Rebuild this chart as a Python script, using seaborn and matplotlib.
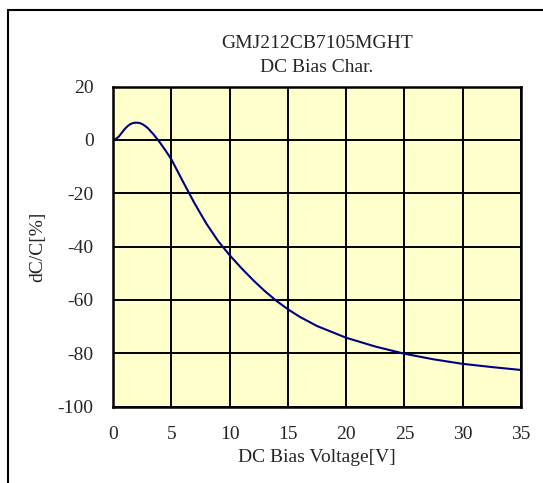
import pandas as pd
import matplotlib
matplotlib.use('Agg')
import matplotlib.pyplot as plt
import seaborn as sns

# DC bias curve
voltage = [0, 0.25, 0.5, 0.75, 1, 1.25, 1.5, 1.75, 2, 2.25, 2.5, 2.75, 3, 3.5, 4, 4.5, 5,
           6, 7, 8, 9, 10, 11, 12, 13, 14, 15, 16, 17.5, 20, 22.5, 25, 27.5, 30, 32.5, 35]
dcc = [0, 0.4, 1.3, 2.7, 4.1, 5.2, 6.0, 6.4, 6.5, 6.4, 6.0, 5.3, 4.4, 2.0, -0.8, -3.9, -7.2,
       -15.6, -23.8, -31.3, -37.8, -43.2, -48.0, -52.5, -56.6, -60.3, -63.5, -66.3, -69.8,
       -74.2, -77.5, -80.2, -82.3, -84.0, -85.2, -86.3]
x_ticks = [0, 5, 10, 15, 20, 25, 30, 35]
y_ticks = [-100, -80, -60, -40, -20, 0, 20]
part_no = 'GMJ212CB7105MGHT'

df = pd.DataFrame({'voltage': voltage, 'dcc': dcc})

sns.set_style('white')
plt.rcParams['font.family'] = ['Liberation Serif', 'DejaVu Serif']
plt.rcParams['axes.unicode_minus'] = False

fig = plt.figure(figsize=(5.43, 4.83), dpi=100)
ax = fig.add_axes([113 / 543, 1 - 406.5 / 483, 408 / 543, 319.8 / 483])
ax.set_facecolor('#ffffcc')

sns.lineplot(data=df, x='voltage', y='dcc', ax=ax, color='#000080', linewidth=1.5)

ax.set_xlim(0, 35)
ax.set_ylim(-100, 20)
ax.set_xticks(x_ticks)
ax.set_yticks(y_ticks)
ax.grid(True, color='black', linewidth=1.4)
ax.tick_params(length=0, labelsize=14, pad=14)
for s in ax.spines.values():
    s.set_color('black')
    s.set_linewidth(1.8)

ax.set_xlabel('DC Bias Voltage[V]', fontsize=14, labelpad=4)
ax.set_ylabel('dC/C[%]', fontsize=14, labelpad=8)

fig.text(317 / 543, 1 - 43 / 483, part_no, ha='center', va='center', fontsize=14)
fig.text(317 / 543, 1 - 68 / 483, 'DC Bias Char.', ha='center', va='center', fontsize=14)

# outer frame, only the top and left edges fall inside the image
fig.add_artist(plt.Line2D([8 / 543, 8 / 543], [0, 1 - 10 / 483], color='black', linewidth=1.5))
fig.add_artist(plt.Line2D([8 / 543, 1], [1 - 10 / 483, 1 - 10 / 483], color='black', linewidth=1.5))

fig.savefig('out.png', dpi=100)
